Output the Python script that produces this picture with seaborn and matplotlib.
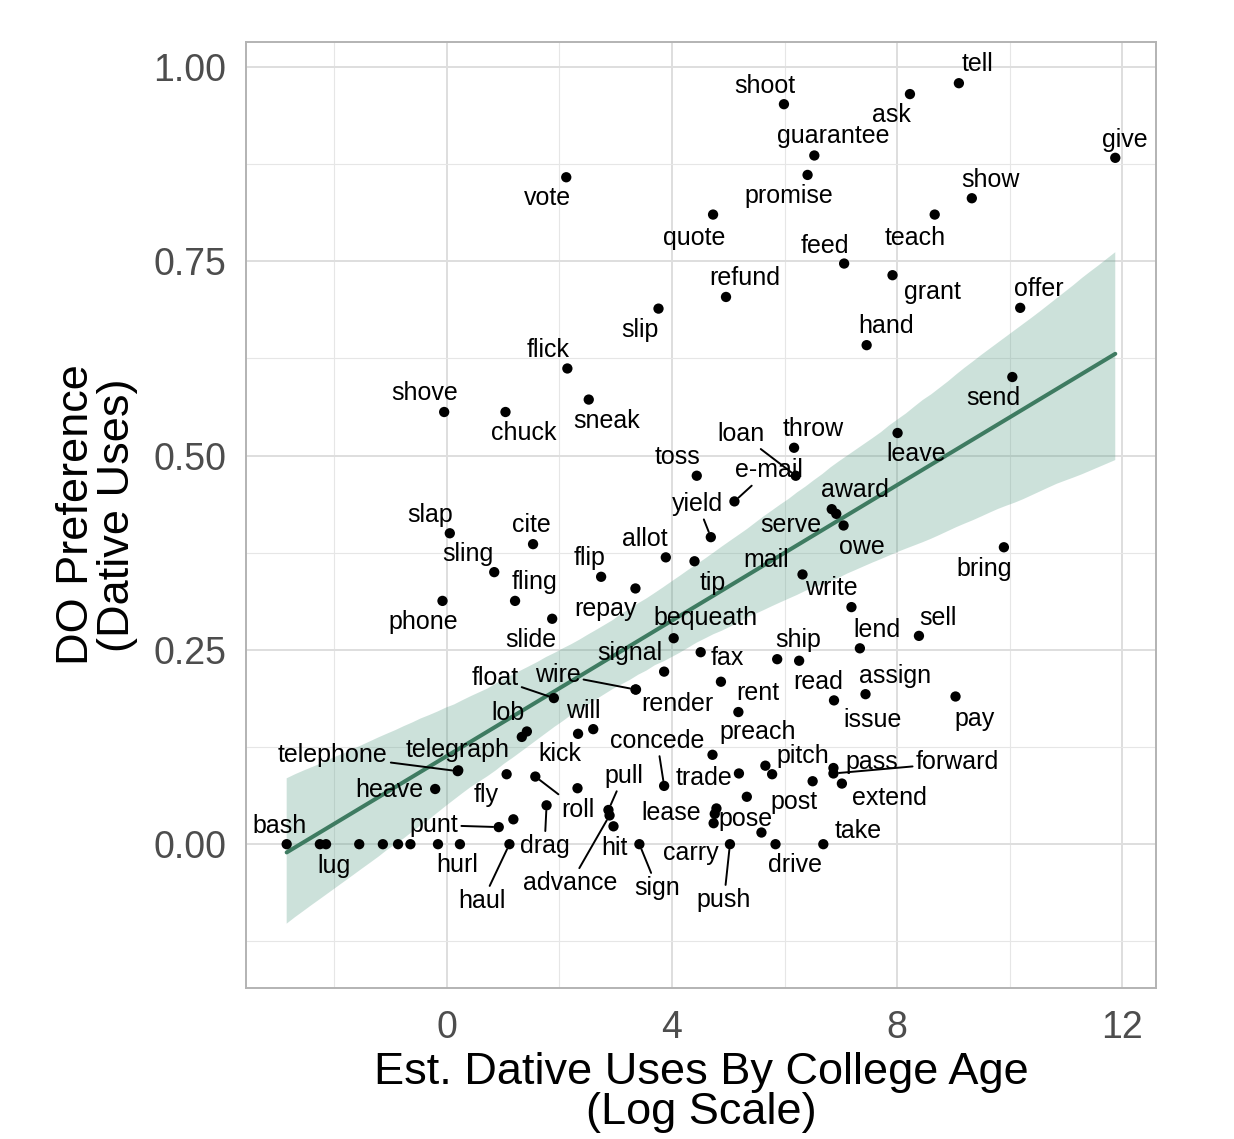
import matplotlib
matplotlib.use("Agg")
import matplotlib.pyplot as plt
from matplotlib.collections import PolyCollection
import seaborn as sns
import pandas as pd

# verbs, estimated dative uses (log) and double-object preference
verbs = ["shoot", "ask", "tell", "give", "guarantee", "promise", "vote", "quote",
         "show", "teach", "feed", "grant", "refund", "offer", "slip", "hand",
         "flick", "sneak", "shove", "chuck", "send", "leave", "toss", "throw",
         "loan", "e-mail", "award", "serve", "owe", "yield", "slap", "cite",
         "allot", "tip", "sling", "flip", "repay", "mail", "bring", "phone",
         "fling", "slide", "write", "bequeath", "lend", "sell", "fax", "signal",
         "ship", "read", "wire", "render", "float", "rent", "issue", "assign",
         "pay", "preach", "lob", "", "will", "", "", "pitch",
         "", "trade", "post", "pass", "forward", "extend", "", "lease",
         "pose", "carry", "", "push", "drive", "take", "concede", "kick",
         "pull", "advance", "hit", "sign", "telephone", "telegraph", "heave", "fly",
         "roll", "drag", "", "punt", "bash", "lug", "", "",
         "", "", "", "", "hurl", "haul"]
log_uses = [5.99, 8.23, 9.10, 11.88, 6.53, 6.41, 2.12, 4.73,
            9.33, 8.67, 7.06, 7.92, 4.96, 10.19, 3.76, 7.46,
            2.14, 2.52, -0.05, 1.04, 10.05, 8.01, 4.44, 6.17,
            6.20, 5.11, 6.84, 6.92, 7.05, 4.69, 0.05, 1.53,
            3.89, 4.40, 0.84, 2.74, 3.35, 6.32, 9.90, -0.08,
            1.21, 1.87, 7.19, 4.03, 7.34, 8.39, 4.51, 3.86,
            5.87, 6.26, 3.35, 3.36, 1.90, 4.87, 6.88, 7.44,
            9.04, 5.18, 1.33, 1.42, 2.33, 2.60, 4.72, 5.66,
            5.78, 5.19, 6.50, 6.87, 6.87, 7.02, 5.33, 4.79,
            4.76, 4.74, 5.59, 5.03, 5.84, 6.69, 3.86, 2.32,
            2.87, 2.89, 2.96, 3.42, 0.19, 0.20, -0.21, 1.06,
            1.57, 1.77, 1.18, 0.92, -2.85, -2.26, -2.15, -1.56,
            -1.14, -0.87, -0.65, -0.16, 0.23, 1.11]
do_pref = [0.952, 0.965, 0.979, 0.883, 0.886, 0.861, 0.858, 0.810,
           0.831, 0.810, 0.747, 0.732, 0.704, 0.690, 0.689, 0.642,
           0.612, 0.572, 0.556, 0.556, 0.601, 0.529, 0.474, 0.510,
           0.474, 0.441, 0.431, 0.425, 0.410, 0.395, 0.400, 0.386,
           0.369, 0.364, 0.350, 0.344, 0.329, 0.347, 0.382, 0.313,
           0.313, 0.290, 0.305, 0.265, 0.252, 0.268, 0.247, 0.222,
           0.238, 0.236, 0.199, 0.199, 0.188, 0.209, 0.185, 0.193,
           0.190, 0.170, 0.138, 0.145, 0.142, 0.148, 0.115, 0.101,
           0.090, 0.091, 0.081, 0.098, 0.091, 0.078, 0.061, 0.046,
           0.039, 0.027, 0.015, 0.000, 0.000, 0.000, 0.075, 0.072,
           0.044, 0.037, 0.023, 0.000, 0.094, 0.095, 0.071, 0.090,
           0.087, 0.050, 0.032, 0.022, 0.000, 0.000, 0.000, 0.000,
           0.000, 0.000, 0.000, 0.000, 0.000, 0.000]

x_ticks = [0, 4, 8, 12]
y_ticks = [0.00, 0.25, 0.50, 0.75, 1.00]

# label placement (pixel offsets from the point), like ggrepel output
label_offsets = {
    "shoot": (-19, 18), "ask": (-19, -21), "tell": (19, 19), "give": (10, 18),
    "guarantee": (19, 19), "promise": (-19, -21), "vote": (-19, -21),
    "quote": (-19, -23), "show": (19, 18), "teach": (-20, -23), "feed": (-19, 18),
    "grant": (40, -17), "refund": (19, 19), "offer": (19, 19), "slip": (-19, -21),
    "hand": (19, 19), "flick": (-19, 18), "sneak": (18, -21), "shove": (-20, 19),
    "chuck": (18, -21), "send": (-19, -21), "leave": (19, -21), "toss": (-19, 19),
    "throw": (19, 19), "loan": (-55, 42), "e-mail": (34, 31), "award": (23, 19),
    "serve": (-45, -11), "owe": (18, -22), "yield": (-13, 33), "slap": (-20, 18),
    "cite": (-2, 19), "allot": (-21, 18), "tip": (18, -22), "sling": (-26, 18),
    "flip": (-12, 19), "repay": (-30, -21), "mail": (-36, 14), "bring": (-20, -22),
    "phone": (-19, -21), "fling": (19, 19), "slide": (-21, -21), "write": (-20, 19),
    "bequeath": (32, 20), "lend": (17, 18), "sell": (19, 18), "fax": (27, -6),
    "signal": (-34, 19), "ship": (21, 19), "read": (19, -21), "wire": (-78, 15),
    "render": (41, -14), "float": (-59, 20), "rent": (37, -11), "issue": (39, -20),
    "assign": (30, 18), "pay": (19, -22), "preach": (19, -20), "lob": (-14, 24),
    "will": (5, 23), "pitch": (37, 10), "trade": (-35, -5), "post": (-19, -21),
    "pass": (38, 6), "forward": (124, 11), "extend": (48, -14), "lease": (-45, -5),
    "pose": (31, -5), "carry": (-23, -30), "push": (-6, -56), "drive": (19, -21),
    "take": (35, 13), "concede": (-7, 45), "kick": (-18, 34), "pull": (15, 34),
    "advance": (-39, -68), "hit": (1, -22), "sign": (18, -44),
    "telephone": (-125, 16), "telegraph": (-1, 20), "heave": (-46, -1),
    "fly": (-20, -21), "roll": (43, -33), "drag": (-2, -41), "punt": (-65, 2),
    "bash": (-7, 18), "lug": (14, -22), "hurl": (-3, -21), "haul": (-27, -57),
}
with_segment = {"loan", "e-mail", "yield", "wire", "float", "forward", "push",
                "concede", "pull", "advance", "sign", "telephone", "roll",
                "drag", "punt", "haul"}

df = pd.DataFrame({"verb": verbs, "log_uses": log_uses, "do_pref": do_pref})

sns.set_style("white")
plt.rcParams["font.family"] = ["Liberation Sans", "DejaVu Sans"]

fig = plt.figure(figsize=(12.34, 11.39), dpi=100)
ax = fig.add_axes([246 / 1234, 1 - 988 / 1139, 910 / 1234, 946 / 1139])

line_col = "#3E7B61"
sns.regplot(data=df, x="log_uses", y="do_pref", scatter=False, ax=ax,
            color=line_col, seed=3, line_kws=dict(lw=2.9, zorder=2))
for coll in ax.collections:
    if isinstance(coll, PolyCollection):
        coll.set_facecolor("#589E87")
        coll.set_alpha(0.3)
        coll.set_edgecolor("none")

sns.scatterplot(data=df, x="log_uses", y="do_pref", color="black", s=55,
                edgecolor="none", ax=ax, zorder=3)

for _, row in df.iterrows():
    if row["verb"] not in label_offsets:
        continue
    dx, dy = label_offsets[row["verb"]]
    arrow = None
    if row["verb"] in with_segment:
        arrow = dict(arrowstyle="-", color="black", lw=1.4, shrinkA=0, shrinkB=4)
    ax.annotate(row["verb"], xy=(row["log_uses"], row["do_pref"]),
                xytext=(dx, dy), textcoords="offset pixels", ha="center",
                va="center", fontsize=18, color="black", zorder=4,
                arrowprops=arrow)

ax.set_xlim(-3.573, 12.604)
ax.set_ylim(-0.185, 1.032)
ax.set_xticks(x_ticks)
ax.set_xticks([-2, 2, 6, 10], minor=True)
ax.set_yticks(y_ticks)
ax.set_yticks([-0.125, 0.125, 0.375, 0.625, 0.875], minor=True)
ax.set_yticklabels([f"{v:.2f}" for v in y_ticks])
ax.grid(which="major", color="#DEDEDE", lw=1.4)
ax.grid(which="minor", color="#E6E6E6", lw=0.8)
ax.set_axisbelow(True)
for sp in ax.spines.values():
    sp.set_color("#B3B3B3")
    sp.set_linewidth(1.4)
ax.tick_params(axis="both", which="major", length=7, width=1.2, color="#B3B3B3",
               labelcolor="#4D4D4D", labelsize=27)
ax.tick_params(axis="y", which="major", pad=7)
ax.tick_params(axis="x", which="major", pad=9)
ax.tick_params(axis="both", which="minor", length=0)

ax.set_xlabel("Est. Dative Uses By College Age\n(Log Scale)", fontsize=32.5,
              color="black", labelpad=4, linespacing=0.98)
ax.set_ylabel("DO Preference\n(Dative Uses)", fontsize=32.5, color="black",
              labelpad=11, linespacing=1.0)

fig.savefig("out.png", dpi=100)
